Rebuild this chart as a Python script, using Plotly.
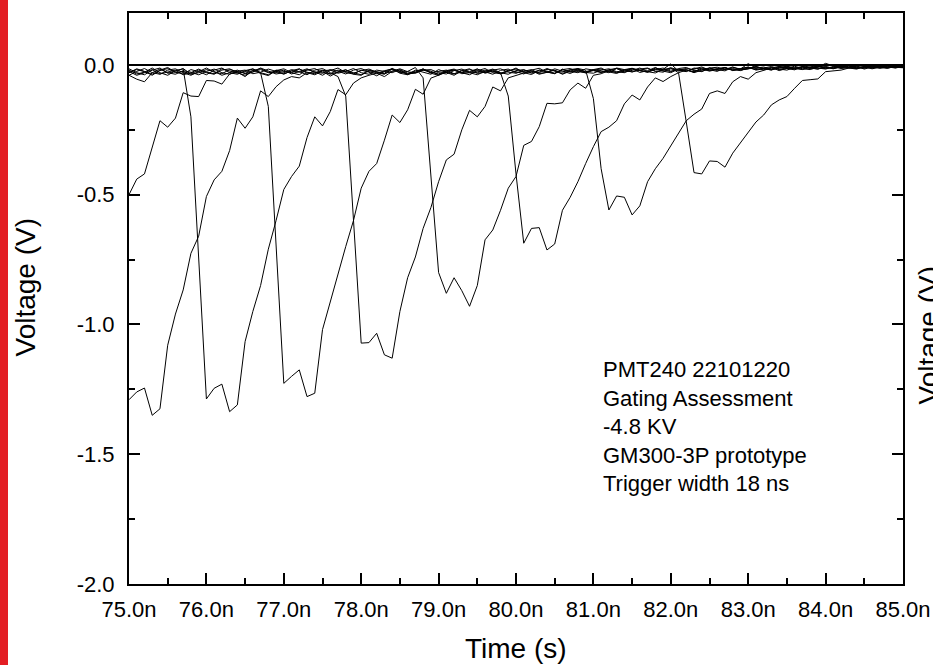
import plotly.graph_objects as go

# Time axis in ns (sampling ~0.1 ns)
time_ns = [
    75.0, 75.1, 75.2, 75.3, 75.4, 75.5, 75.6, 75.7, 75.8, 75.9,
    76.0, 76.1, 76.2, 76.3, 76.4, 76.5, 76.6, 76.7, 76.8, 76.9,
    77.0, 77.1, 77.2, 77.3, 77.4, 77.5, 77.6, 77.7, 77.8, 77.9,
    78.0, 78.1, 78.2, 78.3, 78.4, 78.5, 78.6, 78.7, 78.8, 78.9,
    79.0, 79.1, 79.2, 79.3, 79.4, 79.5, 79.6, 79.7, 79.8, 79.9,
    80.0, 80.1, 80.2, 80.3, 80.4, 80.5, 80.6, 80.7, 80.8, 80.9,
    81.0, 81.1, 81.2, 81.3, 81.4, 81.5, 81.6, 81.7, 81.8, 81.9,
    82.0, 82.1, 82.2, 82.3, 82.4, 82.5, 82.6, 82.7, 82.8, 82.9,
    83.0, 83.1, 83.2, 83.3, 83.4, 83.5, 83.6, 83.7, 83.8, 83.9,
    84.0, 84.1, 84.2, 84.3, 84.4, 84.5, 84.6, 84.7, 84.8, 84.9,
    85.0,
]

# Voltage traces (V), one per gate delay
trace_a = [
    -0.50, -0.44, -0.42, -0.32, -0.215, -0.24, -0.205, -0.107, -0.12, -0.122,
    -0.06, -0.062, -0.074, -0.035, -0.028, -0.045, -0.02, -0.033, -0.041, -0.022,
    -0.015, -0.03, -0.038, -0.018, -0.026, -0.04, -0.022, -0.012, -0.03, -0.035,
    -0.02, -0.028, -0.042, -0.025, -0.014, -0.032, -0.038, -0.02, -0.027, -0.036,
    -0.018, -0.03, -0.04, -0.022, -0.015, -0.033, -0.028, -0.019, -0.035, -0.025,
    -0.012, -0.03, -0.037, -0.02, -0.026, -0.034, -0.016, -0.028, -0.022, -0.031,
    -0.018, -0.012, -0.027, -0.033, -0.02, -0.014, -0.029, -0.022, -0.01, -0.024,
    -0.03, -0.016, -0.02, -0.026, -0.012, -0.018, -0.025, -0.01, -0.02, -0.015,
    -0.008, -0.02, -0.016, -0.01, -0.022, -0.012, -0.005, -0.015, -0.018, -0.009,
    0.006, -0.004, -0.014, -0.01, -0.006, -0.016, -0.008, -0.012, -0.005, -0.01,
    -0.008,
]
trace_b = [
    -1.29, -1.26, -1.245, -1.35, -1.325, -1.08, -0.96, -0.867, -0.726, -0.66,
    -0.507, -0.443, -0.41, -0.33, -0.205, -0.244, -0.2, -0.1, -0.122, -0.084,
    -0.058, -0.045, -0.05, -0.03, -0.038, -0.024, -0.043, -0.028, -0.018, -0.036,
    -0.04, -0.022, -0.03, -0.036, -0.016, -0.027, -0.035, -0.03, -0.018, -0.024,
    -0.038, -0.026, -0.02, -0.034, -0.03, -0.017, -0.025, -0.036, -0.021, -0.016,
    -0.031, -0.024, -0.018, -0.033, -0.029, -0.02, -0.036, -0.024, -0.015, -0.027,
    -0.022, -0.03, -0.018, -0.014, -0.028, -0.021, -0.012, -0.026, -0.031, -0.017,
    0.004, -0.024, -0.018, -0.03, -0.02, -0.011, -0.022, -0.017, -0.008, -0.019,
    -0.016, -0.006, -0.014, -0.02, -0.009, -0.015, -0.019, -0.007, -0.012, -0.016,
    -0.006, -0.013, -0.009, -0.004, -0.012, -0.007, -0.015, -0.009, -0.004, -0.011,
    -0.007,
]
trace_c = [
    -0.02, -0.035, -0.028, -0.012, -0.03, -0.04, -0.022, -0.015, -0.2, -0.74,
    -1.287, -1.246, -1.23, -1.336, -1.31, -1.066, -0.95, -0.85, -0.71, -0.6,
    -0.48, -0.43, -0.39, -0.28, -0.2, -0.235, -0.18, -0.095, -0.115, -0.07,
    -0.05, -0.04, -0.032, -0.045, -0.025, -0.02, -0.036, -0.028, -0.015, -0.032,
    -0.04, -0.024, -0.019, -0.03, -0.038, -0.022, -0.014, -0.03, -0.034, -0.02,
    -0.026, -0.035, -0.02, -0.013, -0.028, -0.033, -0.019, -0.025, -0.03, -0.015,
    -0.02, -0.028, -0.024, -0.012, -0.018, -0.027, -0.02, -0.014, -0.024, -0.028,
    -0.015, -0.021, -0.026, -0.012, -0.016, -0.024, -0.018, -0.01, -0.022, -0.014,
    -0.01, -0.018, -0.012, -0.006, -0.016, -0.02, -0.01, -0.008, -0.014, -0.006,
    -0.01, -0.015, -0.006, -0.002, -0.012, -0.008, -0.004, -0.013, -0.009, -0.003,
    -0.009,
]
trace_d = [
    -0.03, -0.015, -0.025, -0.04, -0.02, -0.01, -0.028, -0.035, -0.018, -0.026,
    -0.038, -0.02, -0.012, -0.03, -0.036, -0.022, -0.015, -0.03, -0.16, -0.7,
    -1.227, -1.2, -1.175, -1.278, -1.265, -1.02, -0.91, -0.8, -0.7, -0.6,
    -0.475, -0.41, -0.38, -0.29, -0.193, -0.222, -0.173, -0.094, -0.113, -0.051,
    -0.04, -0.028, -0.035, -0.02, -0.03, -0.038, -0.024, -0.016, -0.03, -0.036,
    -0.022, -0.018, -0.032, -0.027, -0.014, -0.025, -0.034, -0.02, -0.017, -0.029,
    -0.032, -0.02, -0.015, -0.026, -0.03, -0.016, -0.022, -0.028, -0.012, -0.02,
    -0.026, -0.014, -0.01, -0.022, -0.025, -0.013, -0.018, -0.023, -0.009, -0.016,
    0.005, -0.012, -0.008, -0.017, -0.013, -0.006, -0.014, -0.018, -0.01, -0.005,
    -0.013, -0.009, -0.012, -0.005, -0.008, -0.013, -0.004, -0.007, -0.012, -0.006,
    -0.004,
]
trace_e = [
    -0.015, -0.03, -0.038, -0.02, -0.012, -0.032, -0.025, -0.014, -0.036, -0.03,
    -0.018, -0.025, -0.04, -0.03, -0.02, -0.034, -0.028, -0.012, -0.022, -0.035,
    -0.03, -0.018, -0.026, -0.038, -0.02, -0.014, -0.03, -0.045, -0.12, -0.6,
    -1.072, -1.07, -1.034, -1.117, -1.13, -0.95, -0.82, -0.74, -0.63, -0.55,
    -0.45, -0.366, -0.344, -0.25, -0.175, -0.2, -0.16, -0.085, -0.1, -0.05,
    -0.04, -0.03, -0.022, -0.036, -0.028, -0.015, -0.024, -0.033, -0.02, -0.026,
    -0.018, -0.025, -0.03, -0.014, -0.022, -0.027, -0.016, -0.012, -0.025, -0.02,
    -0.011, -0.019, -0.024, -0.015, -0.008, -0.02, -0.016, -0.012, -0.019, -0.022,
    -0.012, -0.007, -0.015, -0.019, -0.01, -0.005, -0.012, -0.016, -0.008, -0.012,
    -0.016, -0.008, -0.004, -0.011, -0.014, -0.006, -0.01, -0.003, -0.008, -0.012,
    -0.006,
]
trace_f = [
    -0.04, -0.025, -0.014, -0.03, -0.036, -0.02, -0.015, -0.03, -0.04, -0.025,
    -0.012, -0.028, -0.034, -0.018, -0.025, -0.032, -0.022, -0.014, -0.028, -0.03,
    -0.02, -0.035, -0.025, -0.015, -0.028, -0.032, -0.018, -0.024, -0.035, -0.02,
    -0.014, -0.026, -0.034, -0.022, -0.017, -0.03, -0.025, -0.01, -0.05, -0.42,
    -0.8, -0.88, -0.82, -0.87, -0.93, -0.85, -0.674, -0.636, -0.56, -0.475,
    -0.43, -0.31, -0.295, -0.238, -0.148, -0.15, -0.146, -0.096, -0.07, -0.09,
    -0.04, -0.034, -0.022, -0.03, -0.025, -0.014, -0.02, -0.028, -0.018, -0.012,
    -0.024, -0.02, -0.014, -0.019, -0.026, -0.012, -0.009, -0.018, -0.014, -0.02,
    -0.015, -0.008, -0.013, -0.017, -0.006, -0.011, -0.015, -0.009, -0.004, -0.012,
    -0.014, -0.006, -0.009, -0.013, -0.005, -0.01, -0.012, -0.006, -0.003, -0.009,
    -0.011,
]
trace_g = [
    -0.025, -0.04, -0.03, -0.018, -0.035, -0.028, -0.02, -0.038, -0.03, -0.016,
    -0.03, -0.036, -0.02, -0.015, -0.03, -0.04, -0.026, -0.018, -0.03, -0.024,
    -0.036, -0.022, -0.015, -0.032, -0.03, -0.02, -0.036, -0.028, -0.02, -0.03,
    -0.038, -0.02, -0.025, -0.032, -0.014, -0.026, -0.036, -0.03, -0.02, -0.028,
    -0.035, -0.022, -0.016, -0.03, -0.026, -0.015, -0.032, -0.024, -0.03, -0.12,
    -0.42, -0.687, -0.63, -0.627, -0.713, -0.69, -0.56, -0.51, -0.45, -0.38,
    -0.315, -0.257, -0.24, -0.215, -0.15, -0.116, -0.135, -0.085, -0.05, -0.064,
    -0.045, -0.03, -0.02, -0.028, -0.016, -0.022, -0.014, -0.01, -0.02, -0.016,
    -0.009, -0.014, -0.019, -0.011, -0.006, -0.013, -0.016, -0.008, -0.011, -0.004,
    -0.009, -0.013, -0.007, -0.003, -0.01, -0.012, -0.005, -0.008, -0.011, -0.004,
    -0.007,
]
trace_h = [
    -0.03, -0.018, -0.026, -0.036, -0.022, -0.014, -0.03, -0.025, -0.035, -0.02,
    -0.028, -0.034, -0.015, -0.022, -0.032, -0.026, -0.016, -0.03, -0.038, -0.02,
    -0.025, -0.03, -0.016, -0.028, -0.034, -0.022, -0.02, -0.032, -0.025, -0.014,
    -0.03, -0.036, -0.02, -0.026, -0.03, -0.018, -0.032, -0.024, -0.016, -0.03,
    -0.026, -0.02, -0.034, -0.028, -0.018, -0.025, -0.03, -0.02, -0.015, -0.028,
    -0.032, -0.02, -0.024, -0.03, -0.017, -0.022, -0.028, -0.018, -0.014, -0.02,
    -0.13, -0.4, -0.559, -0.505, -0.51, -0.578, -0.543, -0.45, -0.4, -0.36,
    -0.31, -0.26, -0.215, -0.19, -0.17, -0.11, -0.1, -0.11, -0.065, -0.045,
    -0.055, -0.03, -0.02, -0.012, -0.018, -0.01, -0.015, -0.006, -0.012, -0.016,
    -0.008, -0.012, -0.005, -0.01, -0.014, -0.007, -0.004, -0.01, -0.013, -0.006,
    -0.009,
]
trace_i = [
    -0.04, -0.055, -0.065, -0.03, -0.016, -0.03, -0.036, -0.022, -0.028, -0.038,
    -0.025, -0.016, -0.03, -0.036, -0.024, -0.02, -0.034, -0.028, -0.016, -0.026,
    -0.034, -0.024, -0.028, -0.02, -0.014, -0.03, -0.034, -0.02, -0.025, -0.032,
    -0.022, -0.016, -0.028, -0.034, -0.024, -0.015, -0.026, -0.032, -0.02, -0.018,
    -0.03, -0.035, -0.022, -0.016, -0.028, -0.03, -0.02, -0.025, -0.033, -0.022,
    -0.016, -0.026, -0.03, -0.02, -0.024, -0.032, -0.018, -0.014, -0.026, -0.03,
    -0.02, -0.016, -0.024, -0.028, -0.018, -0.013, -0.022, -0.026, -0.016, -0.02,
    -0.012, -0.03, -0.22, -0.415, -0.42, -0.37, -0.372, -0.394, -0.34, -0.3,
    -0.26, -0.22, -0.193, -0.154, -0.135, -0.122, -0.09, -0.06, -0.057, -0.054,
    -0.026, -0.024, -0.02, -0.012, -0.016, -0.008, -0.012, -0.005, -0.01, -0.006,
    -0.009,
]

traces = [trace_a, trace_b, trace_c, trace_d, trace_e, trace_f, trace_g, trace_h, trace_i]
for t in traces:
    if len(t) != len(time_ns):
        raise ValueError("length mismatch %d" % len(t))

x_tickvals = [75, 76, 77, 78, 79, 80, 81, 82, 83, 84, 85]
x_ticktext = ["75.0n", "76.0n", "77.0n", "78.0n", "79.0n", "80.0n",
              "81.0n", "82.0n", "83.0n", "84.0n", "85.0n"]
x_minor = [75.5, 76.5, 77.5, 78.5, 79.5, 80.5, 81.5, 82.5, 83.5, 84.5]
y_tickvals = [-2.0, -1.5, -1.0, -0.5, 0.0]
y_ticktext = ["-2.0", "-1.5", "-1.0", "-0.5", "0.0"]
y_minor = [-1.75, -1.25, -0.75, -0.25]

note_lines = ["PMT240 22101220", "Gating Assessment", "-4.8 KV",
              "GM300-3P prototype", "Trigger width 18 ns"]

FONT = "Liberation Sans, Arial, Helvetica, sans-serif"

fig = go.Figure()
for t in traces:
    fig.add_trace(go.Scatter(x=time_ns, y=t, mode="lines",
                             line=dict(color="black", width=1),
                             showlegend=False, hoverinfo="skip"))

W, H = 933, 665
L, R, T, B = 129, 30, 13, 81
pw, ph = W - L - R, H - T - B

def px_x(px):
    return (px - L) / pw

def px_y(py):
    return (H - B - py) / ph

axis_common = dict(
    ticks="inside", ticklen=11, tickwidth=2, tickcolor="black",
    showline=True, linewidth=2, linecolor="black", mirror="ticks",
    showgrid=False, automargin=False,
    tickfont=dict(family=FONT, size=22, color="black"),
)

fig.update_layout(
    width=W, height=H,
    margin=dict(l=L, r=R, t=T, b=B),
    paper_bgcolor="white", plot_bgcolor="white",
    font=dict(family=FONT, color="black"),
    xaxis=dict(range=[75, 85], tickmode="array", tickvals=x_tickvals,
               ticktext=x_ticktext, zeroline=False, ticklabelstandoff=5,
               minor=dict(ticks="inside", ticklen=6, tickwidth=2,
                          tickcolor="black", tickvals=x_minor, showgrid=False),
               **axis_common),
    yaxis=dict(range=[-2.0, 0.2], tickmode="array", tickvals=y_tickvals,
               ticktext=y_ticktext, zeroline=True, zerolinecolor="black",
               zerolinewidth=2, ticklabelstandoff=8,
               minor=dict(ticks="inside", ticklen=6, tickwidth=2,
                          tickcolor="black", tickvals=y_minor, showgrid=False),
               **axis_common),
    shapes=[dict(type="rect", xref="paper", yref="paper",
                 x0=px_x(0), x1=px_x(8), y0=px_y(H), y1=px_y(0),
                 fillcolor="#E31E24", line=dict(width=0), layer="above")],
    annotations=[
        dict(text="<br>".join(note_lines), xref="paper", yref="paper",
             x=px_x(601), y=px_y(355), xanchor="left", yanchor="top",
             align="left", showarrow=False,
             font=dict(family=FONT, size=22, color="black")),
        dict(text="Time (s)", xref="paper", yref="paper",
             x=0.5, y=px_y(648), xanchor="center", yanchor="middle",
             showarrow=False, font=dict(family=FONT, size=28, color="black")),
        dict(text="Voltage (V)", xref="paper", yref="paper", textangle=-90,
             x=px_x(7), y=px_y(287), xanchor="left", yanchor="middle",
             showarrow=False, font=dict(family=FONT, size=28, color="black")),
        dict(text="Voltage (V)", xref="paper", yref="paper", textangle=-90,
             x=px_x(910), y=px_y(335), xanchor="left", yanchor="middle",
             showarrow=False, font=dict(family=FONT, size=28, color="black")),
    ],
)

fig.write_html("out.html")
